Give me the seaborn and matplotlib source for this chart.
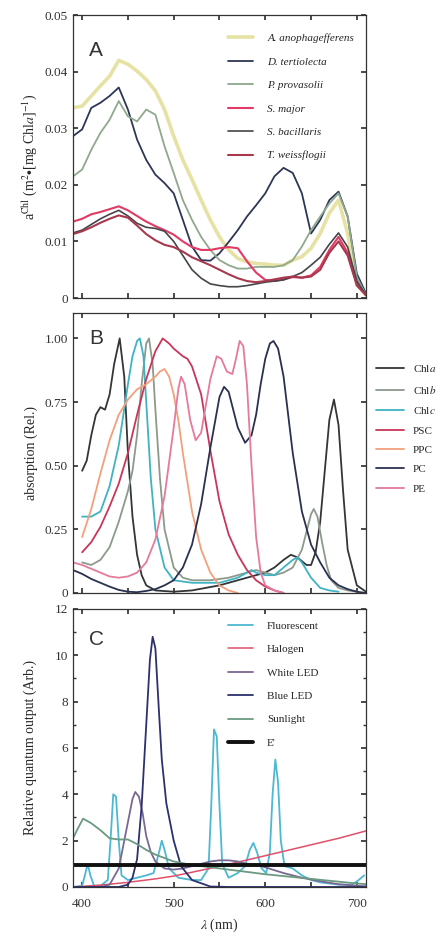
import matplotlib
matplotlib.use("Agg")
import matplotlib.pyplot as plt
from matplotlib.ticker import MultipleLocator, FixedLocator
import seaborn as sns

# ---- panel A: chlorophyll-specific absorption ----
wl_a = [390, 400, 410, 420, 430, 440, 450, 460, 470, 480, 490, 500, 510, 520, 530, 540, 550,
        560, 570, 580, 590, 600, 610, 620, 630, 640, 650, 660, 670, 680, 690, 700, 710]
a_anoph = [0.0336, 0.0339, 0.0357, 0.0375, 0.0392, 0.0420, 0.0413, 0.0401, 0.0386, 0.0366, 0.0333,
           0.0286, 0.0244, 0.0209, 0.0173, 0.0138, 0.0108, 0.0085, 0.0070, 0.0064, 0.0061, 0.0060,
           0.0058, 0.0058, 0.0067, 0.0073, 0.0088, 0.0114, 0.0150, 0.0173, 0.0114, 0.0025, 0.0005]
d_tert = [0.0286, 0.0298, 0.0336, 0.0345, 0.0357, 0.0372, 0.0333, 0.0280, 0.0244, 0.0218, 0.0203,
          0.0185, 0.0138, 0.0091, 0.0067, 0.0066, 0.0079, 0.0099, 0.0120, 0.0144, 0.0164, 0.0185,
          0.0215, 0.0230, 0.0221, 0.0185, 0.0114, 0.0138, 0.0173, 0.0188, 0.0144, 0.0043, 0.0008]
p_prov = [0.0215, 0.0227, 0.0262, 0.0292, 0.0315, 0.0348, 0.0321, 0.0312, 0.0333, 0.0324, 0.0268,
          0.0221, 0.0173, 0.0138, 0.0108, 0.0085, 0.0067, 0.0058, 0.0052, 0.0052, 0.0055, 0.0055,
          0.0055, 0.0058, 0.0067, 0.0091, 0.0120, 0.0144, 0.0167, 0.0185, 0.0144, 0.0037, 0.0005]
s_major = [0.0135, 0.0140, 0.0148, 0.0152, 0.0157, 0.0162, 0.0155, 0.0145, 0.0135, 0.0127, 0.0120,
           0.0112, 0.0100, 0.0090, 0.0085, 0.0085, 0.0088, 0.0090, 0.0088, 0.0065, 0.0045, 0.0032,
           0.0030, 0.0033, 0.0037, 0.0036, 0.0040, 0.0055, 0.0085, 0.0108, 0.0080, 0.0025, 0.0005]
s_bac = [0.0115, 0.0120, 0.0130, 0.0140, 0.0148, 0.0155, 0.0145, 0.0132, 0.0125, 0.0123, 0.0118,
         0.0100, 0.0075, 0.0050, 0.0035, 0.0025, 0.0022, 0.0020, 0.0020, 0.0022, 0.0025, 0.0028,
         0.0030, 0.0032, 0.0038, 0.0045, 0.0058, 0.0072, 0.0095, 0.0115, 0.0090, 0.0030, 0.0005]
t_weis = [0.0113, 0.0118, 0.0125, 0.0133, 0.0140, 0.0146, 0.0142, 0.0128, 0.0113, 0.0102, 0.0094,
          0.0090, 0.0082, 0.0072, 0.0065, 0.0058, 0.0050, 0.0042, 0.0035, 0.0030, 0.0028, 0.0030,
          0.0033, 0.0036, 0.0038, 0.0036, 0.0038, 0.0050, 0.0080, 0.0100, 0.0075, 0.0022, 0.0005]

# ---- panel B: pigment absorption (relative) ----
chla_x = [400, 405, 410, 415, 420, 425, 430, 435, 441, 446, 450, 455, 460, 465, 470, 480, 500, 520,
          550, 570, 590, 600, 610, 620, 628, 635, 645, 650, 655, 660, 665, 670, 675, 680, 685, 690,
          700, 710]
chla_y = [0.48, 0.52, 0.62, 0.70, 0.73, 0.72, 0.78, 0.90, 1.00, 0.85, 0.55, 0.30, 0.15, 0.07, 0.03,
          0.01, 0.005, 0.01, 0.03, 0.05, 0.07, 0.08, 0.10, 0.13, 0.15, 0.14, 0.11, 0.11, 0.16, 0.28,
          0.48, 0.68, 0.76, 0.66, 0.40, 0.17, 0.03, 0.005]
chlb_x = [400, 410, 420, 430, 440, 450, 455, 460, 465, 470, 473, 477, 480, 485, 490, 500, 510, 520,
          540, 560, 580, 590, 600, 610, 620, 630, 640, 645, 650, 653, 657, 662, 667, 672, 680, 690, 700]
chlb_y = [0.12, 0.11, 0.13, 0.18, 0.28, 0.40, 0.48, 0.62, 0.82, 0.98, 1.00, 0.90, 0.72, 0.45, 0.25,
          0.10, 0.06, 0.05, 0.05, 0.06, 0.08, 0.09, 0.08, 0.07, 0.08, 0.10, 0.17, 0.24, 0.31, 0.33,
          0.30, 0.20, 0.11, 0.05, 0.02, 0.01, 0.005]
chlc_x = [400, 410, 420, 430, 440, 445, 450, 455, 460, 463, 467, 470, 475, 480, 490, 500, 520, 550,
          570, 580, 585, 590, 600, 610, 620, 630, 635, 640, 650, 660, 670, 680]
chlc_y = [0.30, 0.30, 0.32, 0.42, 0.58, 0.70, 0.82, 0.93, 0.99, 1.00, 0.93, 0.75, 0.45, 0.25, 0.10,
          0.05, 0.04, 0.04, 0.06, 0.08, 0.09, 0.08, 0.07, 0.07, 0.10, 0.13, 0.14, 0.12, 0.06, 0.02,
          0.01, 0.005]
psc_x = [400, 410, 420, 430, 440, 450, 460, 470, 480, 488, 495, 500, 510, 515, 520, 530, 540, 550,
         560, 570, 580, 590, 600, 610, 620]
psc_y = [0.16, 0.20, 0.26, 0.34, 0.43, 0.55, 0.70, 0.84, 0.95, 1.00, 0.98, 0.96, 0.93, 0.92, 0.89,
         0.78, 0.56, 0.36, 0.23, 0.15, 0.09, 0.05, 0.025, 0.01, 0.0]
ppc_x = [400, 410, 420, 430, 440, 450, 460, 470, 480, 485, 490, 495, 500, 505, 510, 520, 530, 540,
         550, 560, 570]
ppc_y = [0.22, 0.33, 0.47, 0.60, 0.70, 0.76, 0.80, 0.82, 0.85, 0.87, 0.88, 0.85, 0.78, 0.68, 0.55,
         0.32, 0.17, 0.08, 0.03, 0.01, 0.0]
pc_x = [390, 400, 410, 420, 430, 440, 450, 460, 470, 480, 490, 500, 510, 520, 530, 540, 550, 555,
        560, 565, 570, 578, 585, 590, 595, 600, 605, 609, 614, 620, 625, 630, 640, 650, 660, 670,
        680, 690, 700, 710]
pc_y = [0.09, 0.075, 0.055, 0.04, 0.025, 0.012, 0.005, 0.003, 0.008, 0.015, 0.03, 0.05, 0.10, 0.19,
        0.35, 0.57, 0.77, 0.81, 0.79, 0.72, 0.65, 0.59, 0.62, 0.70, 0.82, 0.92, 0.98, 0.99, 0.96,
        0.85, 0.70, 0.55, 0.32, 0.19, 0.12, 0.06, 0.03, 0.015, 0.005, 0.0]
pe_x = [390, 400, 410, 420, 430, 440, 450, 460, 470, 480, 490, 500, 505, 508, 512, 518, 524, 530,
        540, 547, 552, 558, 564, 568, 572, 576, 580, 585, 590, 595, 600, 610, 620]
pe_y = [0.12, 0.11, 0.095, 0.08, 0.065, 0.06, 0.065, 0.08, 0.12, 0.21, 0.38, 0.65, 0.80, 0.85, 0.82,
        0.68, 0.60, 0.63, 0.84, 0.93, 0.92, 0.87, 0.86, 0.92, 0.99, 0.97, 0.82, 0.50, 0.22, 0.08,
        0.03, 0.01, 0.0]

# ---- panel C: light sources ----
fluor_x = [390, 400, 403, 406, 409, 413, 420, 428, 431, 434, 437, 440, 443, 450, 460, 470, 478, 484,
           487, 490, 495, 505, 520, 530, 538, 541, 544, 547, 550, 553, 560, 570, 578, 583, 587, 591,
           596, 601, 605, 608, 611, 614, 617, 621, 630, 640, 650, 660, 680, 695, 702, 708]
fluor_y = [0.0, 0.05, 0.5, 1.0, 0.5, 0.05, 0.05, 0.3, 2.0, 4.0, 3.9, 2.0, 0.5, 0.3, 0.4, 0.5, 0.6,
           1.5, 2.0, 1.6, 0.8, 0.4, 0.3, 0.3, 0.8, 3.5, 6.8, 6.5, 3.5, 1.0, 0.4, 0.6, 0.9, 1.6, 1.9,
           1.5, 0.8, 0.6, 1.5, 4.0, 5.5, 4.5, 2.0, 0.9, 0.8, 0.5, 0.3, 0.2, 0.1, 0.1, 0.3, 0.5]
halo_x = [390, 420, 450, 480, 500, 530, 560, 600, 650, 680, 710]
halo_y = [0.0, 0.08, 0.2, 0.35, 0.47, 0.72, 0.98, 1.35, 1.82, 2.1, 2.42]
wled_x = [390, 420, 430, 440, 450, 455, 458, 462, 466, 470, 475, 480, 490, 500, 510, 520, 530, 540,
          550, 560, 570, 580, 590, 600, 620, 640, 660, 680, 700, 710]
wled_y = [0.0, 0.0, 0.1, 0.8, 2.8, 3.8, 4.1, 3.9, 3.2, 2.2, 1.5, 1.1, 0.8, 0.75, 0.8, 0.9, 1.0, 1.1,
          1.15, 1.15, 1.1, 1.0, 0.95, 0.85, 0.6, 0.4, 0.25, 0.12, 0.05, 0.03]
bled_x = [390, 440, 450, 455, 460, 465, 470, 474, 477, 480, 484, 487, 492, 500, 508, 520, 540, 560,
          710]
bled_y = [0.0, 0.0, 0.1, 0.4, 1.2, 3.5, 7.0, 9.8, 10.8, 10.3, 7.5, 5.5, 3.6, 2.0, 0.9, 0.3, 0.02,
          0.0, 0.0]
sun_x = [390, 395, 401, 410, 420, 430, 440, 450, 460, 470, 480, 490, 500, 520, 550, 580, 600, 650,
         700, 710]
sun_y = [2.1, 2.5, 2.95, 2.75, 2.45, 2.1, 2.05, 2.05, 1.85, 1.6, 1.4, 1.25, 1.1, 0.95, 0.8, 0.65,
         0.55, 0.35, 0.15, 0.12]
eprime_x = [390, 710]
eprime_y = [0.93, 0.93]

sns.set_theme(style="ticks")
plt.rcParams["font.family"] = ["Liberation Serif", "DejaVu Serif"]
plt.rcParams["mathtext.fontset"] = "stix"
plt.rcParams.update({
    "xtick.direction": "in", "ytick.direction": "in",
    "xtick.top": True, "ytick.right": True,
    "xtick.major.size": 3.5, "ytick.major.size": 3.5,
    "xtick.minor.size": 2, "ytick.minor.size": 2,
    "xtick.labelsize": 9.5, "ytick.labelsize": 9.5,
    "axes.edgecolor": "#333333", "axes.linewidth": 0.9,
    "xtick.color": "#333333", "ytick.color": "#333333",
})

fig = plt.figure(figsize=(4.41, 9.39), dpi=100)
ax_a = fig.add_axes([0.1655, 0.6826, 0.6644, 0.3014])
ax_b = fig.add_axes([0.1655, 0.3685, 0.6644, 0.2982])
ax_c = fig.add_axes([0.1655, 0.0554, 0.6644, 0.2961])

# panel A
for y, lab, col, lw in [
    (a_anoph, "A. anophagefferens", "#e6e2a4", 2.6),
    (d_tert, "D. tertiolecta", "#2e3656", 1.3),
    (p_prov, "P. provasolii", "#8fa88e", 1.3),
    (s_major, "S. major", "#e23a64", 1.5),
    (s_bac, "S. bacillaris", "#45454a", 1.2),
    (t_weis, "T. weissflogii", "#a8384e", 1.5),
]:
    sns.lineplot(x=wl_a, y=y, ax=ax_a, color=col, lw=lw, label=lab)
ax_a.set_ylim(0, 0.05)
ax_a.yaxis.set_major_locator(FixedLocator([0, 0.01, 0.02, 0.03, 0.04, 0.05]))
ax_a.set_yticklabels(["0", "0.01", "0.02", "0.03", "0.04", "0.05"])
ax_a.set_ylabel(r"a$^{\rm Chl}$ (m$^2$$\bullet$[mg Chl$\it{a}$]$^{-1}$)", fontsize=10, labelpad=4)
leg = ax_a.legend(loc="upper left", bbox_to_anchor=(0.53, 0.935), frameon=False,
                  fontsize=8, handlelength=2.2, handletextpad=1.3, labelspacing=1.23,
                  borderpad=0, borderaxespad=0)
for t in leg.get_texts():
    t.set_fontstyle("italic")
ax_a.text(0.055, 0.876, "A", transform=ax_a.transAxes, fontsize=15, va="center",
          family="Liberation Sans", color="#333333")

# panel B
for x, y, lab, col in [
    (chla_x, chla_y, r"Chl$\it{a}$", "#333538"),
    (chlb_x, chlb_y, r"Chl$\it{b}$", "#8c9a8c"),
    (chlc_x, chlc_y, r"Chl$\it{c}$", "#3fb3c4"),
    (psc_x, psc_y, "PSC", "#c8365a"),
    (ppc_x, ppc_y, "PPC", "#f2a07c"),
    (pc_x, pc_y, "PC", "#2a3050"),
    (pe_x, pe_y, "PE", "#e57a9a"),
]:
    sns.lineplot(x=x, y=y, ax=ax_b, color=col, lw=1.3, label=lab)
ax_b.set_ylim(0, 1.1)
ax_b.yaxis.set_major_locator(FixedLocator([0, 0.25, 0.5, 0.75, 1.0]))
ax_b.set_yticklabels(["0", "0.25", "0.50", "0.75", "1.00"])
ax_b.set_ylabel("absorption (Rel.)", fontsize=10, labelpad=5)
ax_b.legend(loc="upper left", bbox_to_anchor=(1.035, 0.821), frameon=False,
            fontsize=8, handlelength=2.5, handletextpad=0.8, labelspacing=0.86,
            borderpad=0, borderaxespad=0)
ax_b.text(0.055, 0.91, "B", transform=ax_b.transAxes, fontsize=15, va="center",
          family="Liberation Sans", color="#333333")

# panel C
for x, y, lab, col, lw in [
    (fluor_x, fluor_y, "Fluorescent", "#4cb8d2", 1.3),
    (halo_x, halo_y, "Halogen", "#e0506a", 1.1),
    (wled_x, wled_y, "White LED", "#7a6890", 1.3),
    (bled_x, bled_y, "Blue LED", "#2c3070", 1.3),
    (sun_x, sun_y, "Sunlight", "#6a9a80", 1.3),
    (eprime_x, eprime_y, "E'", "#111111", 2.8),
]:
    sns.lineplot(x=x, y=y, ax=ax_c, color=col, lw=lw, label=lab)
ax_c.set_ylim(0, 12)
ax_c.yaxis.set_major_locator(MultipleLocator(2))
ax_c.yaxis.set_minor_locator(MultipleLocator(1))
ax_c.set_ylabel("Relative quantum output (Arb.)", fontsize=10, labelpad=13)
ax_c.legend(loc="upper left", bbox_to_anchor=(0.53, 0.957), frameon=False,
            fontsize=8, handlelength=2.2, handletextpad=1.3, labelspacing=1.23,
            borderpad=0, borderaxespad=0)
ax_c.text(0.055, 0.89, "C", transform=ax_c.transAxes, fontsize=15, va="center",
          family="Liberation Sans", color="#333333")

for ax in (ax_a, ax_b, ax_c):
    ax.set_xlim(390, 710)
    ax.xaxis.set_major_locator(FixedLocator([400, 450, 500, 550, 600, 650, 700]))
    ax.tick_params(which="both", top=True, right=True)
ax_a.set_xticklabels([])
ax_b.set_xticklabels([])
ax_a.set_xlabel("")
ax_b.set_xlabel("")
ax_c.set_xticklabels(["400", "", "500", "", "600", "", "700"])
ax_c.tick_params(axis="x", pad=8)
ax_c.set_xlabel(r"$\lambda$ (nm)", fontsize=10, labelpad=5)

fig.savefig("out.png", dpi=100)
